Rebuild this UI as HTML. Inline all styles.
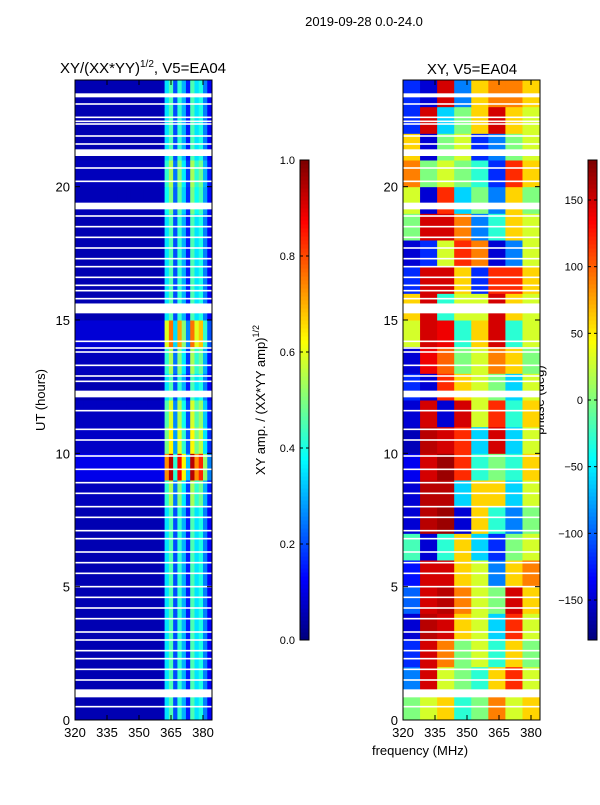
<!DOCTYPE html>
<html><head><meta charset="utf-8"><style>
body{margin:0;background:#fff;font-family:"Liberation Sans",sans-serif;}
svg text{font-family:"Liberation Sans",sans-serif;fill:#000;}
</style></head><body>
<svg id="c" width="600" height="800" xmlns="http://www.w3.org/2000/svg">
<text x="364" y="26" font-size="13" text-anchor="middle">2019-09-28 0.0-24.0</text>
<text x="143" y="73" font-size="15" text-anchor="middle">XY/(XX*YY)<tspan font-size="10" dy="-6">1/2</tspan><tspan dy="6">, V5=EA04</tspan></text>
<text x="472" y="74" font-size="15" text-anchor="middle">XY, V5=EA04</text>
<text transform="translate(45,400) rotate(-90)" font-size="13" text-anchor="middle">UT (hours)</text>
<text x="420" y="755" font-size="13" text-anchor="middle">frequency (MHz)</text>
<text transform="translate(265,400) rotate(-90)" font-size="13" text-anchor="middle">XY amp. / (XX*YY amp)<tspan font-size="9" dy="-6">1/2</tspan></text>
<text transform="translate(544,400) rotate(-90)" font-size="13" text-anchor="middle">phase (deg)</text>
<g id="g"></g>
</svg>
<script>
const hourTicks=[0,5,10,15,20];
const freqTicks=[320,335,350,365,380];
const ampTicks=[0.0,0.2,0.4,0.6,0.8,1.0];
const phaseTicks=[-150,-100,-50,0,50,100,150];
// amplitude column profile (2 MHz bins from 320 to 384)
const ampCols=[0.05,0.05,0.05,0.05,0.05,0.05,0.05,0.05,0.05,0.05,0.05,0.05,0.05,0.05,0.05,0.05,0.05,0.05,0.05,0.05,0.06,0.35,0.45,0.2,0.42,0.3,0.15,0.45,0.35,0.4,0.25,0.12];
// amplitude row scaling per hour (0..23)
const ampRows=[1,1,1,1,1,1,1,1,1.2,2.1,1.4,1.3,1,1.2,1.7,1,1,1,1,1.1,1.2,1,1,1];
// phase (deg), rows = hour 0..23, cols = 8 MHz bins 320..384
const phase=[
[0,30,60,-30,0,90,30,60],
[-90,150,30,0,-30,60,120,30],
[-120,150,90,0,30,-30,60,0],
[-150,160,150,60,30,-60,120,30],
[-100,150,160,90,30,0,150,60],
[-130,150,150,60,30,-90,60,90],
[-20,-150,-30,60,-60,-120,0,30],
[-150,160,170,-150,60,-30,-90,0],
[-150,160,160,-60,60,60,-60,30],
[-140,150,170,120,-30,0,-30,60],
[-160,160,150,120,-60,150,-60,30],
[-150,150,-150,150,30,120,-30,60],
[-120,-150,120,60,30,0,-60,30],
[-150,140,100,0,30,90,60,0],
[30,150,140,-30,60,150,-30,30],
[60,150,-30,30,30,150,60,30],
[-120,150,150,60,-120,120,120,60],
[-150,-120,30,120,90,-150,-90,30],
[0,150,150,90,-90,-30,60,30],
[30,-150,120,-60,0,-90,60,0],
[90,0,30,0,-30,-120,120,60],
[60,-150,0,30,-120,-90,0,30],
[-120,150,-60,0,60,150,60,30],
[-120,-150,150,-90,60,90,90,60]];
const gaps=[[23.35,23.5],[21.15,21.4],[19.15,19.4],[15.25,15.62],[12.1,12.35],[0.85,1.15]];
const thin=[23.1,22.6,22.45,22.35,21.9,21.6,20.7,20.2,18.9,18.5,18.1,17.7,17.3,17.0,16.6,16.3,16.1,15.8,14.2,13.95,13.8,13.3,12.9,12.7,11.6,10.9,10.5,9.9,9.4,8.9,8.5,8.0,7.6,7.1,6.8,6.3,5.9,5.5,5.0,4.6,4.2,3.8,3.3,3.0,2.6,2.3,1.9,1.5,0.5];

const NS='http://www.w3.org/2000/svg',G=document.getElementById('g');
function mk(t,a,p){const e=document.createElementNS(NS,t);for(const k in a)e.setAttribute(k,a[k]);(p||G).appendChild(e);return e;}
function jet(v){v=Math.max(0,Math.min(1,v));const r=Math.min(1,Math.max(0,1.5-Math.abs(4*v-3))),g=Math.min(1,Math.max(0,1.5-Math.abs(4*v-2))),b=Math.min(1,Math.max(0,1.5-Math.abs(4*v-1)));return `rgb(${r*255|0},${g*255|0},${b*255|0})`;}
const Y0=720,Y1=80,yS=h=>Y0-(h/24)*(Y0-Y1);
function xS(left){return f=>left+(f-320)*32/15;}
const panels=[{x:75,w:137,name:'amp'},{x:403,w:137,name:'phase'}];
panels.forEach((P,pi)=>{
 const xs=xS(P.x);
 const clip=mk('clipPath',{id:'cl'+pi});mk('rect',{x:P.x,y:Y1,width:P.w,height:Y0-Y1},clip);
 const hg=mk('g',{'clip-path':'url(#cl'+pi+')'});
 
 
 if(pi===0){
  ampRows.forEach((rf,r)=>ampCols.forEach((cv,c)=>{
   const e=mk('rect',{x:xs(320+c*2),y:yS(r+1),width:xs(322)-xs(320)+0.5,height:yS(0)-yS(1)+0.5,fill:jet(cv*rf)},hg);
   
   
  }));
 }else{
  phase.forEach((row,r)=>row.forEach((pv,c)=>{
   const e=mk('rect',{x:xs(320+c*8),y:yS(r+1),width:xs(328)-xs(320)+0.5,height:yS(0)-yS(1)+0.5,fill:jet((pv+180)/360)},hg);
   
   
  }));
 }
 gaps.forEach(g=>mk('rect',{x:P.x,y:yS(g[1]),width:P.w,height:yS(g[0])-yS(g[1]),fill:'#fff'},hg));
 thin.forEach(h=>mk('rect',{x:P.x,y:yS(h)-0.8,width:P.w,height:1.6,fill:'#fff'},hg));
 const fr=mk('rect',{x:P.x,y:Y1,width:P.w,height:Y0-Y1,fill:'none',stroke:'#000','stroke-width':1});
 
 
 hourTicks.forEach(h=>{const y=yS(h);
  mk('line',{x1:P.x,x2:P.x+5,y1:y,y2:y,stroke:'#000'});mk('line',{x1:P.x+P.w,x2:P.x+P.w-5,y1:y,y2:y,stroke:'#000'});
  const t=mk('text',{x:P.x-5,y:y+5,'font-size':13,'text-anchor':'end'});t.textContent=h;
  
  });
 freqTicks.forEach(f=>{const x=xs(f);
  mk('line',{x1:x,x2:x,y1:Y0,y2:Y0-5,stroke:'#000'});mk('line',{x1:x,x2:x,y1:Y1,y2:Y1+5,stroke:'#000'});
  const t=mk('text',{x:x,y:Y0+17,'font-size':13,'text-anchor':'middle'});t.textContent=f;
  
  });
});
// colorbars
const cbs=[{x:300,ticks:ampTicks,min:0,max:1,fmt:v=>v.toFixed(1),name:'amp-colorbar'},{x:588,ticks:phaseTicks,min:-180,max:180,fmt:v=>v<0?'\u2212'+(-v):''+v,name:'phase-colorbar'}];
cbs.forEach(C=>{
 const cg=mk('g',{});
 
 
 for(let i=0;i<120;i++){mk('rect',{x:C.x,y:640-(i+1)*4,width:9,height:4.5,fill:jet(i/119)},cg);}
 mk('rect',{x:C.x,y:160,width:9,height:480,fill:'none',stroke:'#000','stroke-width':1},cg);
 C.ticks.forEach(v=>{const y=640-(v-C.min)/(C.max-C.min)*480;
  mk('line',{x1:C.x,x2:C.x+3,y1:y,y2:y,stroke:'#000'},cg);mk('line',{x1:C.x+9,x2:C.x+6,y1:y,y2:y,stroke:'#000'},cg);
  const t=mk('text',{x:C.x-5,y:y+4,'font-size':11,'text-anchor':'end'},cg);t.textContent=C.fmt(v);
  
  });
});
</script>
</body></html>
